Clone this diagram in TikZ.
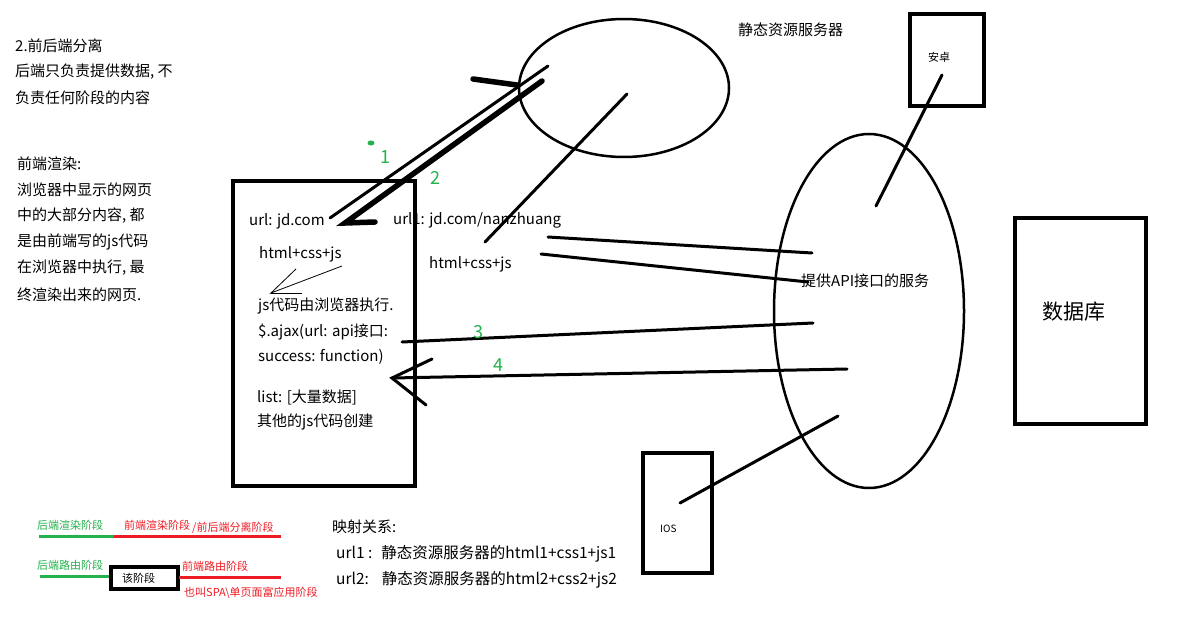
\documentclass[tikz,border=0pt]{standalone}
\usepackage{fontspec}
\setmainfont{Noto Sans CJK SC}
\definecolor{paintgreen}{HTML}{22B14C}
\definecolor{paintred}{HTML}{ED1C24}
\begin{document}
\begin{tikzpicture}[x=1pt,y=-1pt,
    txt/.style={anchor=west,inner sep=0pt,font=\fontsize{15}{18}\selectfont},
    tiny/.style={anchor=west,inner sep=0pt,font=\fontsize{11}{13}\selectfont},
    num/.style={anchor=west,inner sep=0pt,text=paintgreen,font=\fontsize{18}{20}\selectfont},
    pen/.style={line width=3pt,line cap=round},
    fatpen/.style={line width=5.5pt,line cap=round},
    box/.style={line width=3.5pt}]

    % Fix the canvas to the size of the sketch
    \useasboundingbox (0,0) rectangle (1180,623);

    % Left column notes
    \node[txt] (sep1) at (15,46) {2.前后端分离};
    \node[txt] (sep2) at (15,72) {后端只负责提供数据, 不};
    \node[txt] (sep3) at (15,98) {负责任何阶段的内容};
    \node[txt] (fe1) at (17,164) {前端渲染:};
    \node[txt] (fe2) at (17,190) {浏览器中显示的网页};
    \node[txt] (fe3) at (17,216) {中的大部分内容, 都};
    \node[txt] (fe4) at (17,242) {是由前端写的js代码};
    \node[txt] (fe5) at (17,268) {在浏览器中执行, 最};
    \node[txt] (fe6) at (17,295) {终渲染出来的网页.};

    % The browser
    \draw[box] (233,181) rectangle (415,486);
    \node[txt] (url) at (249,221) {url: jd.com};
    \node[txt] (page) at (259,254) {html+css+js};
    \node[txt] (run) at (258,306) {js代码由浏览器执行.};
    \node[txt] (ajax) at (258,332) {\$.ajax(url: api接口:};
    \node[txt] (succ) at (258,357) {success: function)};
    \node[txt] (list) at (257,397) {list: [大量数据]};
    \node[txt] (other) at (257,422) {其他的js代码创建};

    % Little hand drawn arrow from the page to the js code
    \coordinate (tip) at (271,293);
    \draw[line width=0.8pt] (296,269) -- (tip) -- (342,266);
    \draw[line width=0.8pt] (tip) -- (302,293);

    % Static resource server
    \coordinate (S) at (624,88);
    \draw[line width=2.5pt] (S) ellipse (105 and 69);
    \node[txt] (static) at (738,30) {静态资源服务器};

    % Requests 1 and 2 between browser and static server
    \coordinate (r1a) at (330,218);
    \coordinate (r1b) at (548,66);
    \draw[pen] (r1a) -- (r1b);
    \coordinate (r2a) at (542,81);
    \coordinate (r2b) at (345,223);
    \draw[fatpen] (r2a) -- (r2b) -- (375,222);
    \draw[fatpen] (473,79) -- (517,85);
    \fill[paintgreen] (371,143) ellipse (3.5 and 2.5);
    \node[num] (n1) at (380,157) {1};
    \node[num] (n2) at (430,178) {2};

    % Second url
    \node[txt] (url1) at (393,220) {url1: jd.com/nanzhuang};
    \node[txt] (page1) at (429,264) {html+css+js};
    \draw[pen] (485,242) -- (627,94);

    % API service
    \coordinate (A) at (869,311);
    \draw[line width=2.5pt] (A) ellipse (95 and 177);
    \node[txt] (api) at (801,281) {提供API接口的服务};
    \draw[pen] (548,237) -- (812,253);
    \draw[pen] (541,254) -- (808,282);

    % Requests 3 and 4
    \coordinate (r3a) at (402,342);
    \coordinate (r3b) at (813,323);
    \draw[pen] (r3a) -- (r3b);
    \coordinate (r4a) at (847,369);
    \coordinate (r4b) at (392,378);
    \draw[pen] (r4a) -- (r4b);
    \draw[pen] (432,359) -- (r4b) -- (426,405);
    \node[num] (n3) at (473,332) {3};
    \node[num] (n4) at (493,365) {4};

    % Clients
    \draw[box] (910,14) rectangle (984,106);
    \node[tiny] (android) at (928,57) {安卓};
    \draw[pen] (876,206) -- (942,75);
    \draw[box] (643,453) rectangle (712,573);
    \node[tiny,font=\fontsize{10}{12}\selectfont] (ios) at (660,529) {IOS};
    \draw[pen] (680,503) -- (838,416);

    % Database
    \draw[box] (1015,218) rectangle (1146,424);
    \node[txt,font=\fontsize{21}{24}\selectfont] (db) at (1042,312) {数据库};

    % Mapping
    \node[txt] (map) at (332,527) {映射关系:};
    \node[txt,font=\fontsize{15.5}{18}\selectfont] (map1) at (336,554) {url1 :\hspace{9pt}静态资源服务器的html1+css1+js1};
    \node[txt,font=\fontsize{15.5}{18}\selectfont] (map2) at (336,580) {url2:\hspace{13pt}静态资源服务器的html2+css2+js2};

    % Legend of the stages
    \node[tiny,text=paintgreen] (be) at (37,525) {后端渲染阶段};
    \node[tiny,text=paintred] (fr) at (124,525) {前端渲染阶段};
    \node[tiny,text=paintred] (fs) at (192,528) {/前后端分离阶段};
    \draw[pen,line cap=butt,paintgreen] (39,536) -- (114,536);
    \draw[pen,line cap=butt,paintred] (114,536) -- (281,536);
    \node[tiny,text=paintgreen] (br) at (37,565) {后端路由阶段};
    \draw[pen,line cap=butt,paintgreen] (40,576) -- (110,576);
    \draw[box] (111,567) rectangle (178,589);
    \node[tiny] (stage) at (122,578) {该阶段};
    \draw[pen,line cap=butt,paintred] (179,577) -- (281,577);
    \node[tiny,text=paintred] (fro) at (182,566) {前端路由阶段};
    \node[tiny,text=paintred] (spa) at (184,593) {也叫SPA\textbackslash{}单页面富应用阶段};

\end{tikzpicture}
\end{document}
